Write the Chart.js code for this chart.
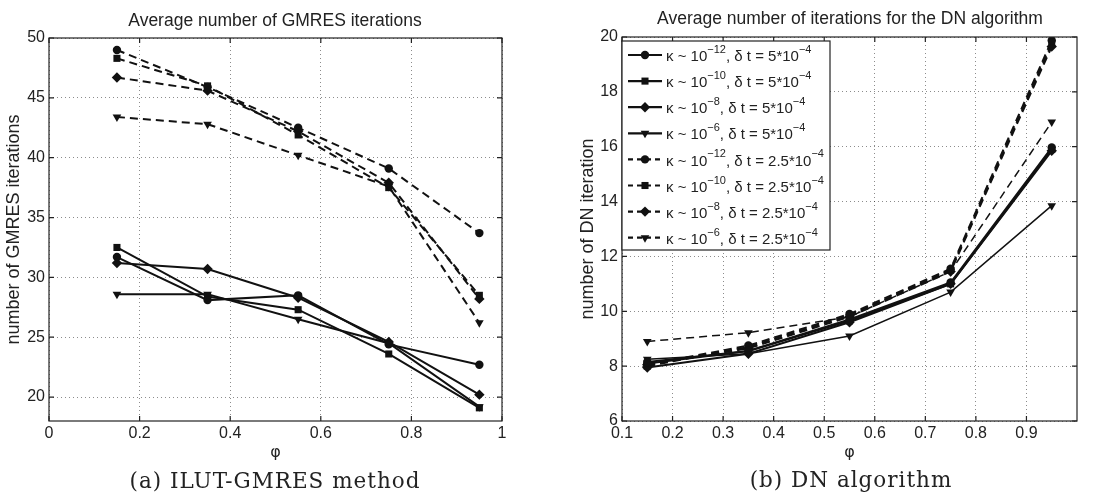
<!DOCTYPE html>
<html>
<head>
<meta charset="utf-8">
<script src="https://cdn.jsdelivr.net/npm/chart.js@4.4.0/dist/chart.umd.min.js"></script>
<style>
  body { margin: 0; background: #fff; width: 1113px; height: 498px; position: relative; overflow: hidden; font-family: "Liberation Sans", Arial, sans-serif; color: #222; }
  .holder { position: absolute; top: 0; height: 470px; }
  .title { position: absolute; font-size: 17.5px; line-height: 20px; white-space: nowrap; transform: translateX(-50%); }
  .caption { position: absolute; font-family: "DejaVu Serif", serif; font-size: 21.5px; letter-spacing: 1px; line-height: 24px; white-space: nowrap; transform: translateX(-50%); z-index: 2; }
</style>
</head>
<body>
<div class="holder" style="left:0; width:545px"><canvas id="gmres"></canvas></div>
<div class="holder" style="left:566px; width:547px"><canvas id="dn"></canvas></div>
<div class="title" style="left:275px; top:10px">Average number of GMRES iterations</div>
<div class="title" style="left:850px; top:8px">Average number of iterations for the DN algorithm</div>
<div class="caption" style="left:275px; top:469px">(a) ILUT-GMRES method</div>
<div class="caption" style="left:851px; top:468px">(b) DN algorithm</div>
<script>
// phi values (x axis of both plots)
const phi = [0.15, 0.35, 0.55, 0.75, 0.95];

// GMRES iterations, dt = 5e-4 (solid lines)
const gmresK12 = [31.7, 28.1, 28.5, 24.4, 22.7];
const gmresK10 = [32.5, 28.4, 27.3, 23.6, 19.1];
const gmresK8 = [31.2, 30.7, 28.3, 24.6, 20.2];
const gmresK6 = [28.6, 28.6, 26.5, 24.5, 19.2];
// GMRES iterations, dt = 2.5e-4 (dashed lines)
const gmresK12b = [49.0, 45.9, 42.5, 39.1, 33.7];
const gmresK10b = [48.3, 46.0, 41.9, 37.5, 28.5];
const gmresK8b = [46.7, 45.6, 42.2, 37.9, 28.2];
const gmresK6b = [43.4, 42.8, 40.2, 37.6, 26.2];

// DN iterations, dt = 5e-4 (solid lines)
const dnK12 = [8.15, 8.55, 9.7, 11.05, 15.97];
const dnK10 = [8.1, 8.55, 9.65, 11.0, 15.9];
const dnK8 = [7.95, 8.45, 9.6, 11.0, 15.85];
const dnK6 = [8.25, 8.45, 9.1, 10.7, 13.85];
// DN iterations, dt = 2.5e-4 (dashed lines)
const dnK12b = [8.05, 8.75, 9.9, 11.55, 19.87];
const dnK10b = [8.0, 8.7, 9.85, 11.5, 19.75];
const dnK8b = [8.05, 8.65, 9.8, 11.45, 19.65];
const dnK6b = [8.9, 9.22, 9.8, 11.45, 16.9];

// legend pieces
const kappaExp = ['\u221212', '\u221210', '\u22128', '\u22126'];
const dtBase = ['5', '2.5'];

// tick values
const gmresXTicks = [0, 0.2, 0.4, 0.6, 0.8, 1];
const gmresYTicks = [20, 25, 30, 35, 40, 45, 50];
const dnXTicks = [0.1, 0.2, 0.3, 0.4, 0.5, 0.6, 0.7, 0.8, 0.9];
const dnYTicks = [6, 8, 10, 12, 14, 16, 18, 20];

const markers = [
    { pointStyle: 'circle', pointRadius: 4.2, pointRotation: 0 },
    { pointStyle: 'rect', pointRadius: 5.0, pointRotation: 0 },
    { pointStyle: 'rectRot', pointRadius: 5.2, pointRotation: 0 },
    { pointStyle: 'triangle', pointRadius: 5.0, pointRotation: 180 }
];

/**
 * Build one dataset from a value list.
 */
function series(values, mark, dashed, width) {
    return Object.assign({
        data: phi.map((x, i) => ({ x: x, y: values[i] })),
        borderColor: '#111',
        backgroundColor: '#111',
        pointBackgroundColor: '#111',
        pointBorderWidth: 0,
        borderWidth: width,
        borderDash: dashed ? [8, 5] : [],
        tension: 0
    }, markers[mark]);
}

// box round the axes plus inward tick marks
const frame = {
    id: 'frame',
    afterDatasetsDraw(chart) {
        const { ctx, chartArea: a, scales } = chart;
        ctx.save();
        ctx.strokeStyle = '#222';
        ctx.lineWidth = 1.2;
        ctx.beginPath();
        for (const t of scales.x.ticks) {
            const px = scales.x.getPixelForValue(t.value);
            ctx.moveTo(px, a.bottom); ctx.lineTo(px, a.bottom - 5);
            ctx.moveTo(px, a.top); ctx.lineTo(px, a.top + 5);
        }
        for (const t of scales.y.ticks) {
            const py = scales.y.getPixelForValue(t.value);
            ctx.moveTo(a.left, py); ctx.lineTo(a.left + 5, py);
            ctx.moveTo(a.right, py); ctx.lineTo(a.right - 5, py);
        }
        ctx.stroke();
        ctx.strokeRect(a.left, a.top, a.width, a.height);
        ctx.restore();
    }
};

// legend box drawn in the top left corner of the DN plot
const dnLegend = {
    id: 'dnLegend',
    afterDraw(chart) {
        const { ctx, chartArea: a } = chart;
        const left = a.left, top = a.top + 4, w = 208, h = 209;
        ctx.save();
        ctx.fillStyle = '#fff';
        ctx.fillRect(left, top, w, h);
        ctx.strokeStyle = '#222';
        ctx.lineWidth = 1.2;
        ctx.strokeRect(left, top, w, h);
        chart.data.datasets.forEach((ds, i) => {
            const y = top + 14 + i * 26.1;
            ctx.strokeStyle = '#111';
            ctx.lineWidth = 2.2;
            ctx.setLineDash(ds.borderDash.length ? [5, 4] : []);
            ctx.beginPath();
            ctx.moveTo(left + 6, y);
            ctx.lineTo(left + 40, y);
            ctx.stroke();
            ctx.setLineDash([]);
            ctx.fillStyle = '#111';
            Chart.helpers.drawPoint(ctx, {
                pointStyle: ds.pointStyle, radius: ds.pointRadius,
                rotation: ds.pointRotation, borderWidth: 0
            }, left + 23, y);
            // text with superscripts
            const parts = [
                ['\u03ba ~ 10', false],
                [kappaExp[i % 4], true],
                [', \u03b4 t = ' + dtBase[Math.floor(i / 4)] + '*10', false],
                ['\u22124', true]
            ];
            let x = left + 44;
            ctx.fillStyle = '#222';
            ctx.textAlign = 'left';
            ctx.textBaseline = 'middle';
            for (const [s, sup] of parts) {
                ctx.font = (sup ? '11px' : '15px') + ' "Liberation Sans", Arial, sans-serif';
                ctx.fillText(s, x, sup ? y - 5 : y + 2);
                x += ctx.measureText(s).width;
            }
        });
        ctx.restore();
    }
};

const tickFont = { family: '"Liberation Sans", Arial, sans-serif', size: 16 };
const fmt = v => String(+Number(v).toFixed(2));

/**
 * Shared options for one MATLAB style axes.
 */
function axes(xr, yr, xTicks, yTicks, yTitle, yTitlePad, yWidth, pad) {
    return {
        responsive: true,
        maintainAspectRatio: false,
        animation: false,
        layout: { padding: pad },
        plugins: { legend: { display: false }, tooltip: { enabled: false } },
        scales: {
            x: {
                type: 'linear', min: xr[0], max: xr[1],
                afterBuildTicks: s => { s.ticks = xTicks.map(v => ({ value: v })); },
                afterFit: s => { s.height = 49; },
                ticks: { font: tickFont, color: '#222', padding: 3, maxRotation: 0, callback: fmt },
                grid: { color: 'rgba(0,0,0,0.45)', lineWidth: 1, drawTicks: false },
                border: { display: false, dash: [1, 3] },
                title: { display: true, text: '\u03c6', color: '#222', font: { family: '"DejaVu Sans", sans-serif', size: 16 }, padding: { top: 0, bottom: 8 } }
            },
            y: {
                type: 'linear', min: yr[0], max: yr[1],
                afterBuildTicks: s => { s.ticks = yTicks.map(v => ({ value: v })); },
                afterFit: s => { s.width = yWidth; },
                ticks: { font: tickFont, color: '#222', padding: 4, callback: fmt },
                grid: { color: 'rgba(0,0,0,0.45)', lineWidth: 1, drawTicks: false },
                border: { display: false, dash: [1, 3] },
                title: { display: true, text: yTitle, color: '#222', font: { family: '"Liberation Sans", Arial, sans-serif', size: 18 }, padding: { top: yTitlePad, bottom: 0 } }
            }
        }
    };
}

new Chart(document.getElementById('gmres'), {
    type: 'line',
    data: {
        datasets: [
            series(gmresK12, 0, false, 2), series(gmresK10, 1, false, 2),
            series(gmresK8, 2, false, 2), series(gmresK6, 3, false, 2),
            series(gmresK12b, 0, true, 2), series(gmresK10b, 1, true, 2),
            series(gmresK8b, 2, true, 2), series(gmresK6b, 3, true, 2)
        ]
    },
    options: axes([0, 1], [18, 50], gmresXTicks, gmresYTicks, 'number of GMRES iterations', 3, 49,
        { left: 0, top: 38, right: 43, bottom: 0 }),
    plugins: [frame]
});

new Chart(document.getElementById('dn'), {
    type: 'line',
    data: {
        datasets: [
            series(dnK12, 0, false, 2), series(dnK10, 1, false, 2),
            series(dnK8, 2, false, 2), series(dnK6, 3, false, 1.5),
            series(dnK12b, 0, true, 2), series(dnK10b, 1, true, 2),
            series(dnK8b, 2, true, 2), series(dnK6b, 3, true, 1.5)
        ]
    },
    options: axes([0.1, 1], [6, 20], dnXTicks, dnYTicks, 'number of DN iteration', 11, 56,
        { left: 0, top: 37, right: 36, bottom: 0 }),
    plugins: [frame, dnLegend]
});
</script>
</body>
</html>
